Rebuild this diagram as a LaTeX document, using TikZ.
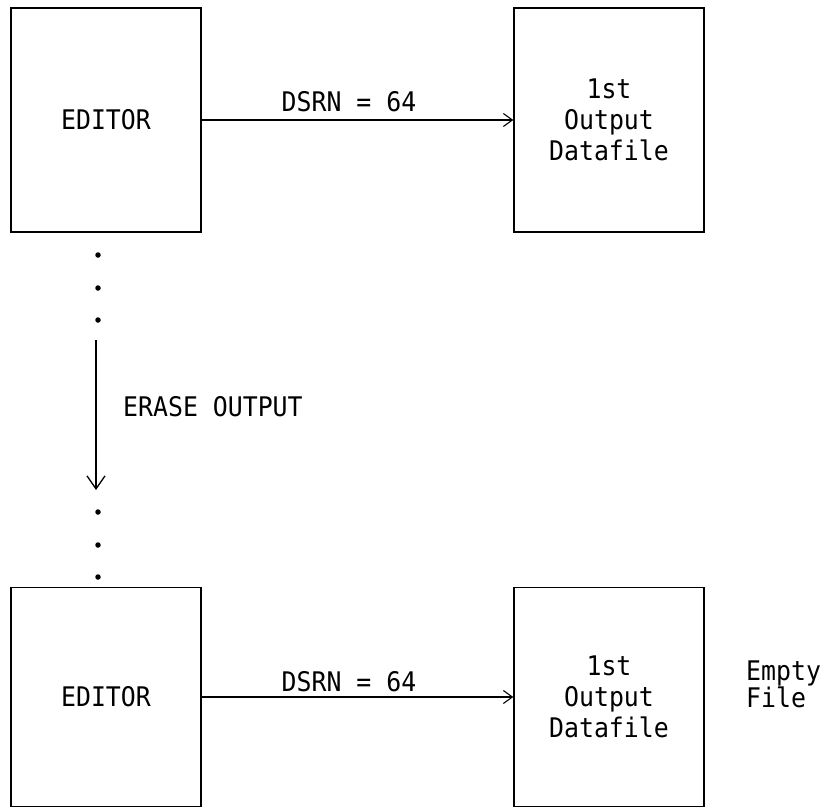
\documentclass[tikz,border=0pt]{standalone}
\usepackage{fontspec}
\setmonofont[FakeStretch=0.92]{DejaVu Sans Mono}
\usetikzlibrary{arrows.meta}
\begin{document}
\begin{tikzpicture}[x=1pt,y=-1pt,
  box/.style={draw,line width=1.4pt,minimum width=190pt,inner sep=0pt,align=center,
    font=\ttfamily\fontsize{27}{31}\selectfont},
  lbl/.style={font=\ttfamily\fontsize{27}{25}\selectfont,inner sep=0pt},
  harrow/.style={line width=1.1pt,-{Straight Barb[length=9pt,width=13pt,line width=1.1pt]}},
  varrow/.style={line width=1.3pt,-{Straight Barb[length=13pt,width=18pt,line width=1.3pt]}},
  dotmark/.style={circle,fill,inner sep=0pt,minimum size=5.5pt}]
\useasboundingbox (0,0) rectangle (823,812);
% top row
\node[box,minimum height=224pt] (ed1) at (106,120) {EDITOR};
\node[box,minimum height=224pt] (out1) at (609,120) {1st\\Output\\Datafile};
\draw[harrow] (ed1.east) -- (out1.west);
\node[lbl] (d1) at (349,102) {DSRN = 64};
% dots and erase arrow
\node[dotmark] (p1) at (98,255) {};
\node[dotmark] (p2) at (98,288) {};
\node[dotmark] (p3) at (98,320) {};
\coordinate (va) at (96,340);
\coordinate (vb) at (96,490);
\draw[varrow] (va) -- (vb);
\node[lbl,anchor=west] (er) at (123,407) {ERASE OUTPUT};
\node[dotmark] (p4) at (98,512) {};
\node[dotmark] (p5) at (98,545) {};
\node[dotmark] (p6) at (98,577) {};
% bottom row
\node[box,minimum height=219pt] (ed2) at (106,697) {EDITOR};
\node[box,minimum height=219pt] (out2) at (609,697) {1st\\Output\\Datafile};
\draw[harrow] (ed2.east) -- (out2.west);
\node[lbl] (d2) at (349,682) {DSRN = 64};
\node[lbl,anchor=west,align=left] (em) at (746,684) {Empty\\File};
\end{tikzpicture}
\end{document}
